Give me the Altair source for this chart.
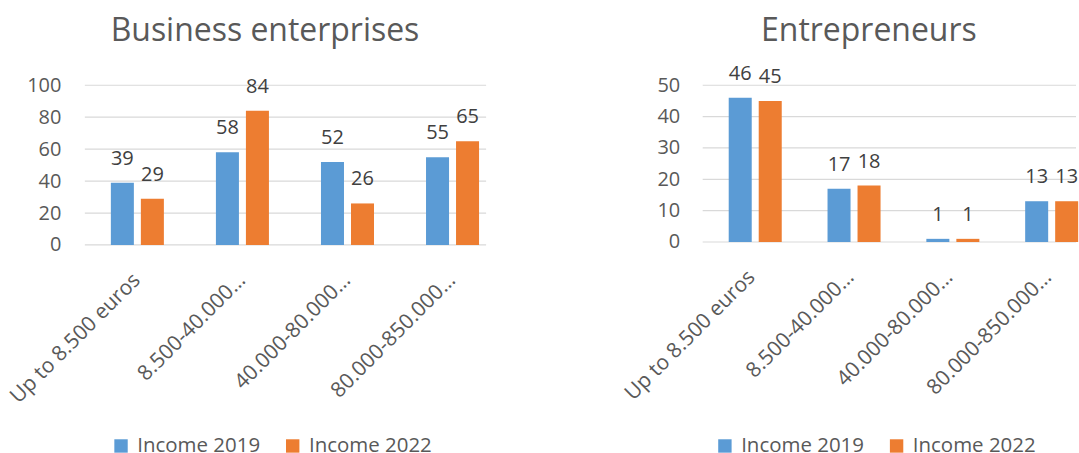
import altair as alt
import pandas as pd

categories = ["Up to 8.500 euros", "8.500-40.000…", "40.000-80.000…", "80.000-850.000…"]
series = ["Income 2019", "Income 2022"]
business_2019 = [39, 58, 52, 55]
business_2022 = [29, 84, 26, 65]
entre_2019 = [46, 17, 1, 13]
entre_2022 = [45, 18, 1, 13]
business_ticks = [0, 20, 40, 60, 80, 100]
entre_ticks = [0, 10, 20, 30, 40, 50]
colors = ["#5B9BD5", "#ED7D31"]

FONT = "Open Sans"


def make_df(v2019, v2022):
    rows = []
    for c, a, b in zip(categories, v2019, v2022):
        rows.append({"category": c, "series": series[0], "value": a})
        rows.append({"category": c, "series": series[1], "value": b})
    return pd.DataFrame(rows)


def panel(df, ticks, title, width, xpin, gridlen, height, opin, opout, oalign,
          loff, lx, ly, dx, toff, lpad):
    ymax = ticks[-1]
    yscale = alt.Scale(domain=[0, ymax], nice=False, zero=True)
    yaxis = alt.Axis(
        title=None, values=ticks,
        labelFont=FONT, labelFontSize=20, labelColor="#595959",
        domain=False, ticks=False, labelPadding=lpad, grid=False,
    )
    x = alt.X(
        "category:N",
        sort=categories,
        scale=alt.Scale(paddingInner=xpin, paddingOuter=0, align=0),
        axis=alt.Axis(
            title=None, labelAngle=-45, labelAlign="right", labelBaseline="top",
            labelFont=FONT, labelFontSize=21, labelColor="#595959",
            domain=False, ticks=False, labelPadding=24, labelOffset=loff,
            labelLimit=400, grid=False,
        ),
    )
    y = alt.Y("value:Q", scale=yscale, axis=yaxis)
    xo = alt.XOffset("series:N", sort=series,
                     scale=alt.Scale(paddingInner=opin, paddingOuter=opout, align=oalign))

    grid = alt.Chart(pd.DataFrame({"tick": ticks})).mark_rule(
        color="#D9D9D9", strokeWidth=1.2
    ).encode(
        y=alt.Y("tick:Q", scale=yscale, axis=yaxis),
        x=alt.value(0), x2=alt.value(gridlen),
    )
    base = alt.Chart(df)
    bars = base.mark_bar().encode(
        x=x, xOffset=xo, y=y,
        color=alt.Color(
            "series:N", sort=series,
            scale=alt.Scale(domain=series, range=colors),
            legend=alt.Legend(
                title=None, orient="none", legendX=lx, legendY=ly,
                direction="horizontal", symbolType="square", symbolSize=180,
                symbolStrokeWidth=0, labelFont=FONT, labelFontSize=20.5,
                labelColor="#595959", labelOffset=6, columnPadding=22,
            ),
        ),
    )
    labels = base.mark_text(
        font=FONT, fontSize=20, color="#404040", baseline="alphabetic", dy=-18
    ).encode(x=x, xOffset=xo, y=y, text="value:Q")
    return alt.layer(grid, bars, labels).properties(
        width=width, height=height,
        title=alt.TitleParams(
            title, font=FONT, fontSize=32, fontWeight="normal", color="#595959",
            anchor="middle", frame="group", dx=dx, offset=toff,
        ),
    )


left = panel(make_df(business_2019, business_2022), business_ticks,
             "Business enterprises", 421, 0, 402, 160, 0.233, 0.867, 0.5,
             -8, 26, 351, -30, 27, 24)
right = panel(make_df(entre_2019, entre_2022), entre_ticks,
              "Entrepreneurs", 374, 0.22222, 374, 157, 0.2143, 0.482, 0.907,
              3, 12, 351, -20.5, 16, 23)

chart = (
    alt.hconcat(left, right, spacing=198, bounds="flush")
    .resolve_scale(color="independent", y="independent", x="independent")
    .resolve_legend(color="independent")
    .configure_view(stroke=None)
    .properties(padding={"left": 6, "top": 14, "right": 0, "bottom": 0},
                background="white")
)

chart.save("out.html", embed_options={"renderer": "svg", "actions": False})
